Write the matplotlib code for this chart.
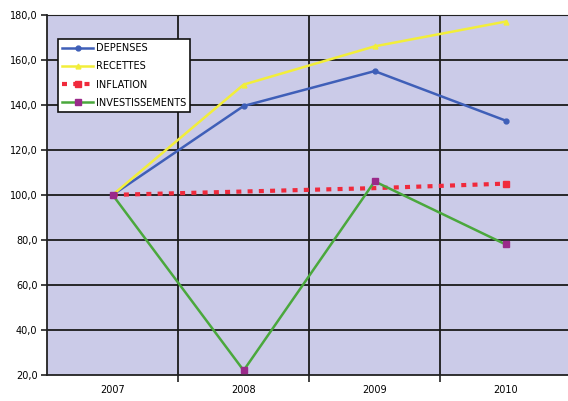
import matplotlib.pyplot as plt
import numpy as np

# Donnees (indice base 100 en 2007)
annees = ['2007', '2008', '2009', '2010']
depenses = [100.0, 139.5, 155.0, 133.0]
recettes = [100.0, 149.0, 166.0, 177.0]
inflation = [100.0, 101.5, 103.0, 105.0]
investissements = [100.0, 22.0, 106.0, 78.0]
y_ticks = [20, 40, 60, 80, 100, 120, 140, 160, 180]

fig = plt.figure(figsize=(5.68, 4.01), dpi=100)
ax = fig.add_axes([0.083, 0.065, 0.9225, 0.898])
ax.set_facecolor('#cbcbe8')

x = np.arange(len(annees))

ax.plot(x, depenses, color='#3f5fb8', linewidth=1.8, marker='o', markersize=3.5,
        label='DEPENSES', zorder=4)
ax.plot(x, recettes, color='#f2ee3a', linewidth=1.8, marker='^', markersize=3.5,
        label='RECETTES', zorder=4)
ax.plot(x, inflation, color='#f02a3c', linewidth=3, linestyle=(0, (1.2, 1.5)),
        marker='s', markersize=4, markevery=[3], label='INFLATION', zorder=4)
ax.plot(x, investissements, color='#4aa83c', linewidth=1.8, marker='s', markersize=4,
        markerfacecolor='#9a2a8a', markeredgecolor='#9a2a8a',
        label='INVESTISSEMENTS', zorder=4)

# Axes
ax.set_xlim(-0.5, 3.5)
ax.set_ylim(20, 180)
ax.set_yticks(y_ticks)
ax.set_yticklabels([f'{v},0' for v in y_ticks])
ax.set_xticks([0.5, 1.5, 2.5])
ax.set_xticklabels([])
ax.set_xticks(x, minor=True)
ax.set_xticklabels(annees, minor=True)
ax.tick_params(axis='x', which='minor', length=0, pad=7, labelsize=7)
ax.tick_params(axis='x', which='major', length=5, width=1.2, color='#222222')
ax.tick_params(axis='y', length=4, width=1.2, labelsize=7, pad=3, color='#222222')

for v in y_ticks[1:]:
    ax.axhline(v, color='#1a1a1a', linewidth=1.3, zorder=2)
for v in [0.5, 1.5, 2.5]:
    ax.axvline(v, color='#1a1a1a', linewidth=1.3, zorder=2)

for s in ['left', 'bottom']:
    ax.spines[s].set_color('#222222')
    ax.spines[s].set_linewidth(1.3)
ax.spines['top'].set_color('#222222')
ax.spines['right'].set_visible(False)

leg = ax.legend(loc='upper left', bbox_to_anchor=(0.012, 0.946), fontsize=7,
                frameon=True, fancybox=False, handlelength=3.2, labelspacing=0.85,
                borderpad=0.4, handletextpad=0.3)
leg.get_frame().set_edgecolor('#111111')
leg.get_frame().set_linewidth(1.2)
leg.get_frame().set_facecolor('white')
leg.get_frame().set_alpha(1)

fig.savefig('out.png', dpi=100)
